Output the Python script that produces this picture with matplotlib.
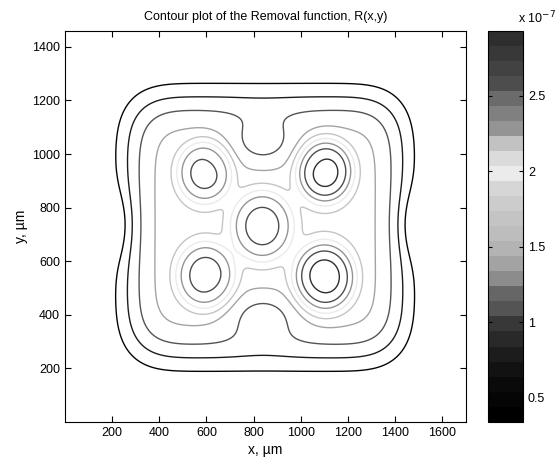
import numpy as np
import matplotlib
matplotlib.use("Agg")
import matplotlib.pyplot as plt
from matplotlib.colors import ListedColormap, Normalize
from matplotlib.cm import ScalarMappable
from math import erf

plt.rcParams['font.family'] = ['Liberation Sans', 'DejaVu Sans']

# ---- data (values in units of 1e-7) ----
# five removal spots: UL, UR, centre, LL, LR
spot_x = [592, 1103, 837, 596, 1101]
spot_y = [932, 936, 731, 545, 539]
peak_amp = [1.07, 1.31, 1.073, 1.085, 1.32]
peak_r0 = [121, 125, 136, 129, 136]
# broad plateau
plateau_amp = 1.6
plateau_x = [263, 1435]
plateau_y = [238, 1214]
plateau_edge = 145
# dents in the plateau (top, bottom, left, right)
dent_x = [840, 840, 200, 1498]
dent_y = [1040, 396, 735, 735]
dent_sx = [108, 108, 60, 60]
dent_sy = [70, 70, 90, 90]
dent_amp = [0.57, 0.57, 0.38, 0.38]

levels = [0.5, 0.8, 1.1, 1.4, 1.7, 2.0, 2.3, 2.6, 2.85]
cbar_ticks = [0.5, 1.0, 1.5, 2.0, 2.5]
cbar_ticklabels = ['0.5', '1', '1.5', '2', '2.5']
cmap_grays = [0.0, 0.02, 0.04, 0.07, 0.11, 0.16, 0.22, 0.33, 0.40, 0.55,
              0.64, 0.70, 0.74, 0.77, 0.80, 0.84, 0.92, 0.86, 0.76, 0.58,
              0.50, 0.42, 0.30, 0.26, 0.22, 0.18]
cmin, cmax = 0.34, 2.93
xticks = [200, 400, 600, 800, 1000, 1200, 1400, 1600]
yticks = [200, 400, 600, 800, 1000, 1200, 1400]

# ---- field ----
x = np.linspace(0, 1700, 341)
y = np.linspace(0, 1460, 293)
X, Y = np.meshgrid(x, y)
verf = np.vectorize(erf)

def box(v, a, b, w):
    return 0.5 * (verf((v - a) / w) - verf((v - b) / w))

Z = plateau_amp * box(X, *plateau_x, plateau_edge) * box(Y, *plateau_y, plateau_edge)
for dx_, dy_, dsx, dsy, da in zip(dent_x, dent_y, dent_sx, dent_sy, dent_amp):
    Z -= da * np.exp(-((X - dx_) ** 2 / (2 * dsx ** 2) + (Y - dy_) ** 2 / (2 * dsy ** 2)))
for sx, sy, pa, pr in zip(spot_x, spot_y, peak_amp, peak_r0):
    r = np.sqrt((X - sx) ** 2 + (Y - sy) ** 2)
    Z += pa * np.exp(-(r / pr) ** 4)

cmap = ListedColormap([(g, g, g) for g in cmap_grays])
norm = Normalize(vmin=cmin, vmax=cmax)

fig = plt.figure(figsize=(5.58, 4.68), dpi=100)
ax = fig.add_axes([0.1165, 0.099, 0.718, 0.835])
ax.contour(X, Y, Z, levels=levels, cmap=cmap, norm=norm, linewidths=1.0)
ax.set_xlim(0, 1700)
ax.set_ylim(0, 1460)
ax.set_xticks(xticks)
ax.set_yticks(yticks)
ax.tick_params(direction='in', top=True, right=True, length=4, labelsize=9, width=0.8)
ax.set_xlabel('x, \u00b5m', fontsize=10, labelpad=3)
ax.set_ylabel('y, \u00b5m', fontsize=10, labelpad=3)
ax.set_title('Contour plot of the Removal function, R(x,y)', fontsize=9, pad=8)
for s in ax.spines.values():
    s.set_linewidth(0.8)

cax = fig.add_axes([0.8746, 0.099, 0.0627, 0.835])
sm = ScalarMappable(norm=norm, cmap=cmap)
cb = fig.colorbar(sm, cax=cax)
cb.set_ticks(cbar_ticks)
cb.set_ticklabels(cbar_ticklabels)
cax.tick_params(direction='in', left=True, right=True, length=3, labelsize=9, width=0.8)
cb.outline.set_linewidth(0.8)
fig.text(0.963, 0.962, r'x 10$^{-7}$', fontsize=9, ha='center', va='center')

fig.savefig('out.png', dpi=100)
